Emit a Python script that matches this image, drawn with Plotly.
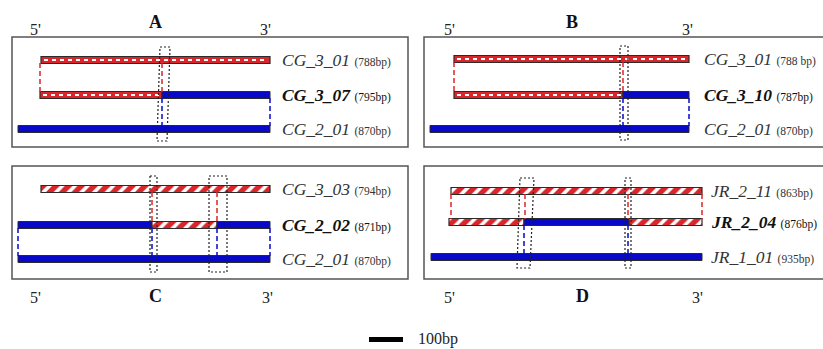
import plotly.graph_objects as go

# ---------------- data (positions along the alignment, local units) ----------------
panel_letters = ["A", "B", "C", "D"]

A_names = ["CG_3_01", "CG_3_07", "CG_2_01"]
A_lengths = ["(788bp)", "(795bp)", "(870bp)"]
A_bold = [False, True, False]
A_segments = [[(23, 252, "dash")], [(22, 144, "dash"), (144, 252, "blue")], [(0, 252, "blue")]]
A_red_links = [22, 144]
A_blue_links = [144, 252]
A_boxes = [(142, 152, 139, 149)]

B_names = ["CG_3_01", "CG_3_10", "CG_2_01"]
B_lengths = ["(788 bp)", "(787bp)", "(870bp)"]
B_bold = [False, True, False]
B_segments = [[(24, 259, "dash")], [(24, 193, "dash"), (193, 259, "blue")], [(0, 259, "blue")]]
B_red_links = [24, 193]
B_blue_links = [193, 259]
B_boxes = [(190, 198, 190, 198)]

C_names = ["CG_3_03", "CG_2_02", "CG_2_01"]
C_lengths = ["(794bp)", "(871bp)", "(870bp)"]
C_bold = [False, True, False]
C_segments = [[(23, 252, "hatch")],
              [(0, 134, "blue"), (134, 199, "hatch"), (199, 252, "blue")],
              [(0, 252, "blue")]]
C_red_links = [134, 199]
C_blue_links = [0, 134, 199, 252]
C_boxes = [(132, 139, 132, 139), (191, 209, 191, 209)]

D_names = ["JR_2_11", "JR_2_04", "JR_1_01"]
D_lengths = ["(863bp)", "(876bp)", "(935bp)"]
D_bold = [False, True, False]
D_segments = [[(20, 271, "hatch")],
              [(18, 93, "hatch"), (93, 198, "blue"), (198, 271, "hatch")],
              [(0, 271, "blue")]]
D_red_links = [20, 94, 197, 271]
D_blue_links = [93, 197]
D_boxes = [(89, 103, 86, 99), (194, 200, 194, 200)]

scale_label = "100bp"
scale_len = 34

# ---------------- layout constants ----------------
W, H = 823, 349
RED = "#d9262b"
BLUE = "#0808c8"
EDGE = "#2a2a2a"
FONT = "Liberation Serif"
BAR_H = 7

panels = [
    dict(letter="A", names=A_names, lengths=A_lengths, bold=A_bold, segs=A_segments,
         red=A_red_links, blue=A_blue_links, boxes=A_boxes,
         ox=18, rows=[60, 95, 129], boxy=(47, 141), labx=280,
         frame=(12, 37, 408, 147), head_y=(29, 22), heads=(35, 155, 265)),
    dict(letter="B", names=B_names, lengths=B_lengths, bold=B_bold, segs=B_segments,
         red=B_red_links, blue=B_blue_links, boxes=B_boxes,
         ox=430, rows=[59, 95, 129], boxy=(46, 140), labx=702,
         frame=(424, 37, 830, 147), head_y=(29, 22), heads=(449, 572, 687)),
    dict(letter="C", names=C_names, lengths=C_lengths, bold=C_bold, segs=C_segments,
         red=C_red_links, blue=C_blue_links, boxes=C_boxes,
         ox=18, rows=[189, 225, 259], boxy=(176, 272), labx=280,
         frame=(12, 166, 408, 279), head_y=(297, 296), heads=(35, 155, 267)),
    dict(letter="D", names=D_names, lengths=D_lengths, bold=D_bold, segs=D_segments,
         red=D_red_links, blue=D_blue_links, boxes=D_boxes,
         ox=431, rows=[191, 222, 257], boxy=(178, 268), labx=709,
         frame=(424, 166, 830, 279), head_y=(297, 296), heads=(449, 582, 697)),
]

fig = go.Figure()
shapes = []
annotations = []

for p in panels:
    ox = p["ox"]
    x0, y0, x1, y1 = p["frame"]
    shapes.append(dict(type="rect", xref="x", yref="y", x0=x0, y0=y0, x1=x1, y1=y1,
                       line=dict(color="#555555", width=1.5), layer="below"))
    # connectors
    r0, r1, r2 = p["rows"]
    for xv in p["red"]:
        fig.add_trace(go.Scatter(x=[ox + xv, ox + xv], y=[r0 + 3, r1 - 3], mode="lines",
                                 line=dict(color=RED, width=1.5, dash="5px,3px"),
                                 hoverinfo="skip", showlegend=False))
    for xv in p["blue"]:
        fig.add_trace(go.Scatter(x=[ox + xv, ox + xv], y=[r1 + 3, r2 - 3], mode="lines",
                                 line=dict(color=BLUE, width=1.5, dash="5px,3px"),
                                 hoverinfo="skip", showlegend=False))
    # bars
    for ry, segs in zip(p["rows"], p["segs"]):
        for (s, e, kind) in segs:
            if kind == "blue":
                marker = dict(color=BLUE, line=dict(color=EDGE, width=1))
            elif kind == "dash":
                marker = dict(color=RED, line=dict(color=EDGE, width=1.2))
            else:
                marker = dict(color="white", line=dict(color=EDGE, width=1.2),
                              pattern=dict(shape="/", fgcolor=RED, bgcolor="white",
                                           fillmode="replace", fgopacity=1,
                                           size=9, solidity=0.6))
            fig.add_trace(go.Bar(x=[e - s], base=[ox + s], y=[ry], width=BAR_H,
                                 orientation="h", marker=marker,
                                 hoverinfo="skip", showlegend=False))
            if kind == "dash":
                fig.add_trace(go.Scatter(x=[ox + s + 3, ox + e - 2], y=[ry, ry], mode="lines",
                                         line=dict(color="white", width=2, dash="4px,4px"),
                                         hoverinfo="skip", showlegend=False))
    # dotted breakpoint boxes
    by0, by1 = p["boxy"]
    for (lt, rt, lb, rb) in p["boxes"]:
        fig.add_trace(go.Scatter(x=[ox + lt, ox + rt, ox + rb, ox + lb, ox + lt],
                                 y=[by0, by0, by1, by1, by0], mode="lines",
                                 line=dict(color="#222222", width=1.2, dash="2px,2px"),
                                 hoverinfo="skip", showlegend=False))
    # labels
    for ry, nm, ln, b in zip(p["rows"], p["names"], p["lengths"], p["bold"]):
        main = f"<i>{nm}</i>"
        if b:
            main = f"<b>{main}</b>"
        annotations.append(dict(x=p["labx"], y=ry, xref="x", yref="y", xanchor="left",
                                yanchor="middle", showarrow=False,
                                text=f"{main} <span style='font-size:11.5px'>{ln}</span>",
                                font=dict(family=FONT, size=17.5,
                                          color="#111111" if b else "#333333")))
    # headers 5' letter 3'
    hx5, hxl, hx3 = p["heads"]
    hy, hl = p["head_y"]
    annotations.append(dict(x=hx5, y=hy, xref="x", yref="y", showarrow=False, text="5'",
                            font=dict(family=FONT, size=16, color="#222222")))
    annotations.append(dict(x=hxl, y=hl, xref="x", yref="y", showarrow=False,
                            text=f"<b>{p['letter']}</b>",
                            font=dict(family=FONT, size=18, color="#111111")))
    annotations.append(dict(x=hx3, y=hy, xref="x", yref="y", showarrow=False, text="3'",
                            font=dict(family=FONT, size=16, color="#222222")))

# scale bar
fig.add_trace(go.Bar(x=[scale_len], base=[369], y=[339.5], width=5, orientation="h",
                     marker=dict(color="black", line=dict(width=0)),
                     hoverinfo="skip", showlegend=False))
annotations.append(dict(x=416, y=339, xref="x", yref="y", xanchor="left", showarrow=False,
                        text=scale_label, font=dict(family=FONT, size=16, color="#222222")))

fig.update_layout(
    width=W, height=H, autosize=False,
    margin=dict(l=0, r=0, t=0, b=0),
    paper_bgcolor="white", plot_bgcolor="white",
    barmode="overlay",
    xaxis=dict(range=[0, W], visible=False, fixedrange=True),
    yaxis=dict(range=[H, 0], visible=False, fixedrange=True),
    shapes=shapes, annotations=annotations,
)

fig.write_html("out.html", config={"displayModeBar": False},
               post_script="document.body.style.margin='0';document.body.style.overflow='hidden';")
